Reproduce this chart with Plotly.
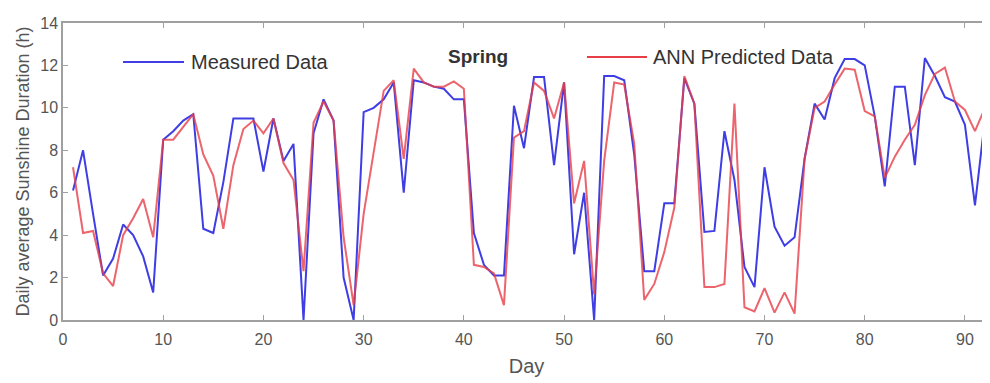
import plotly.graph_objects as go

days = list(range(1, 93))

measured = [6.1, 8.0, 5.0, 2.1, 2.9, 4.5, 4.0, 3.0, 1.3, 8.5,
            8.9, 9.4, 9.7, 4.3, 4.1, 6.5, 9.5, 9.5, 9.5, 7.0,
            9.5, 7.5, 8.3, 0.0, 8.8, 10.4, 9.4, 2.0, 0.0, 9.8,
            10.0, 10.4, 11.2, 6.0, 11.3, 11.2, 11.0, 10.9, 10.4, 10.4,
            4.1, 2.6, 2.1, 2.1, 10.1, 8.1, 11.45, 11.45, 7.3, 11.2,
            3.1, 6.0, 0.0, 11.5, 11.5, 11.3, 7.8, 2.3, 2.3, 5.5,
            5.5, 11.4, 10.2, 4.15, 4.2, 8.9, 6.6, 2.5, 1.55, 7.2,
            4.4, 3.5, 3.9, 7.6, 10.2, 9.45, 11.4, 12.3, 12.3, 12.0,
            9.6, 6.3, 11.0, 11.0, 7.3, 12.35, 11.5, 10.5, 10.3, 9.2,
            5.4, 9.5]

predicted = [7.2, 4.1, 4.2, 2.2, 1.6, 4.0, 4.8, 5.7, 3.9, 8.5,
             8.5, 9.1, 9.7, 7.8, 6.8, 4.3, 7.3, 9.0, 9.4, 8.8,
             9.5, 7.4, 6.6, 2.3, 9.3, 10.3, 9.4, 3.9, 0.7, 5.0,
             8.0, 10.8, 11.3, 7.6, 11.85, 11.2, 11.0, 11.0, 11.25, 10.9,
             2.6, 2.5, 2.2, 0.7, 8.6, 8.9, 11.2, 10.8, 9.5, 11.2,
             5.5, 7.5, 1.2, 7.5, 11.2, 11.1, 8.3, 0.95, 1.7, 3.2,
             5.3, 11.5, 10.2, 1.55, 1.55, 1.7, 10.2, 0.6, 0.4, 1.5,
             0.35, 1.3, 0.3, 7.6, 10.0, 10.3, 11.1, 11.85, 11.8, 9.85,
             9.6, 6.7, 7.7, 8.5, 9.2, 10.6, 11.6, 11.9, 10.3, 9.9,
             8.9, 10.0]

x_ticks = [0, 10, 20, 30, 40, 50, 60, 70, 80, 90]
y_ticks = [0, 2, 4, 6, 8, 10, 12, 14]

BLUE = "rgb(62,62,228)"
RED = "rgb(232,62,72)"
GREY = "#a0a0a0"
TXT = "#555555"
FONT = "Liberation Sans, Arial"

# page body has an 8px margin; figure is sized to fit the 990x383 window
OFF = 8
W, H = 990 - OFF, 383 - OFF
L, R, T, B = 63 - OFF, 0, 23 - OFF, 383 - 320
pw, ph = W - L - R, H - T - B

def px(x):
    return (x - OFF - L) / pw

def py(y):
    return (H - B - (y - OFF)) / ph

fig = go.Figure()
fig.add_trace(go.Scatter(x=days, y=measured, mode="lines", name="Measured Data",
                         line=dict(color=BLUE, width=2)))
fig.add_trace(go.Scatter(x=days, y=predicted, mode="lines", name="ANN Predicted Data",
                         line=dict(color=RED, width=2), opacity=0.8))

# legend samples and texts
fig.add_shape(type="line", xref="paper", yref="paper",
              x0=px(123), x1=px(184), y0=py(62), y1=py(62),
              line=dict(color=BLUE, width=2))
fig.add_shape(type="line", xref="paper", yref="paper",
              x0=px(587), x1=px(647), y0=py(57), y1=py(57),
              line=dict(color=RED, width=2))
fig.add_annotation(xref="paper", yref="paper", x=px(189), y=py(62),
                   text="Measured Data", showarrow=False, xanchor="left", yanchor="middle",
                   font=dict(family=FONT, size=20, color="#333333"))
fig.add_annotation(xref="paper", yref="paper", x=px(651), y=py(57),
                   text="ANN Predicted Data", showarrow=False, xanchor="left", yanchor="middle",
                   font=dict(family=FONT, size=20, color="#333333"))
fig.add_annotation(xref="paper", yref="paper", x=px(478), y=py(56),
                   text="<b>Spring</b>", showarrow=False, xanchor="center", yanchor="middle",
                   font=dict(family=FONT, size=19, color="#333333"))

fig.update_layout(
    width=W, height=H,
    margin=dict(l=L, r=R, t=T, b=B, autoexpand=False),
    plot_bgcolor="white", paper_bgcolor="white",
    showlegend=False,
    font=dict(family=FONT, color=TXT),
    xaxis=dict(range=[0, 92.5], tickvals=x_ticks, ticks="inside", ticklen=5,
               tickcolor=GREY, showline=True, linecolor=GREY, linewidth=1.5,
               mirror="ticks", showgrid=False, zeroline=False, automargin=False,
               tickfont=dict(size=16, color=TXT), ticklabelstandoff=4,
               title=dict(text="Day", font=dict(size=20, color=TXT), standoff=12)),
    yaxis=dict(range=[0, 14], tickvals=y_ticks, ticks="inside", ticklen=5,
               tickcolor=GREY, showline=True, linecolor=GREY, linewidth=1.5,
               mirror="ticks", showgrid=False, zeroline=False, automargin=False,
               tickfont=dict(size=16, color=TXT),
               title=dict(text="Daily average Sunshine Duration (h)",
                          font=dict(size=18, color=TXT), standoff=6)),
)

fig.write_html("out.html")
